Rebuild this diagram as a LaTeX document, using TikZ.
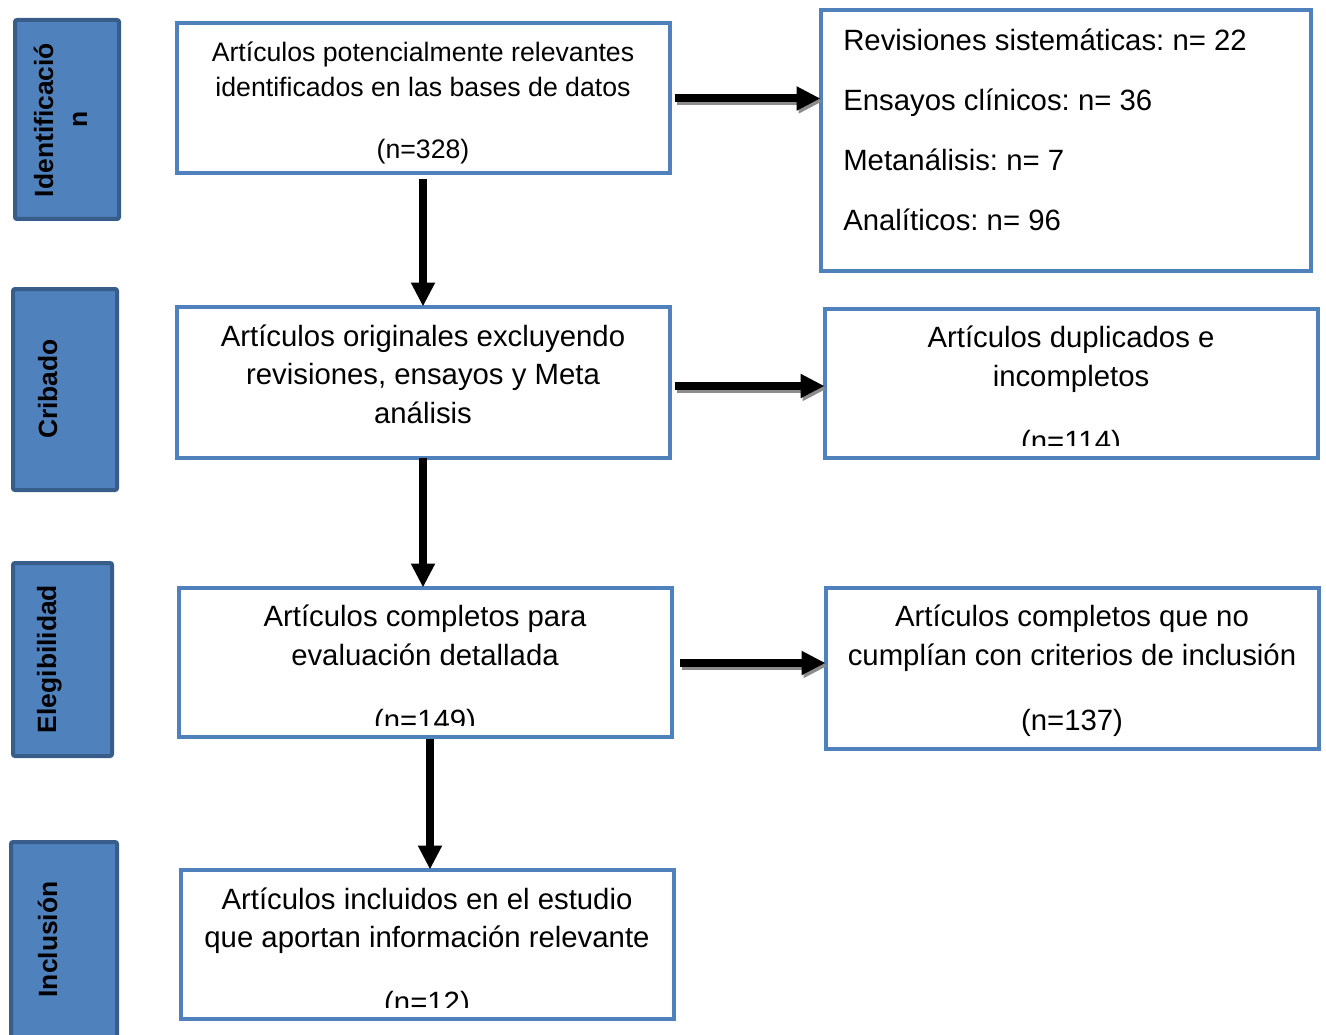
\documentclass[tikz,border=0pt]{standalone}
\usepackage{fontspec}
\setmainfont{Liberation Sans}
\usetikzlibrary{arrows.meta}
\definecolor{boxblue}{RGB}{79,129,189}
\definecolor{tagborder}{RGB}{56,93,138}
\definecolor{shadowgray}{RGB}{140,140,140}
\frenchspacing
\begin{document}
\begin{tikzpicture}[x=0.75pt,y=-0.75pt,
  mainbox/.style={draw=boxblue,line width=3pt,fill=white,inner sep=0,outer sep=0},
  tagbox/.style={draw=tagborder,fill=boxblue,line width=3pt,rounded corners=1.5pt,inner sep=0,outer sep=0},
  tagtext/.style={font=\fontsize{19.8}{24}\selectfont\bfseries,rotate=90,anchor=base,inner sep=0},
  bigtext/.style={font=\fontsize{22}{26}\selectfont,anchor=base,inner sep=0},
  smalltext/.style={font=\fontsize{20}{24}\selectfont,anchor=base,inner sep=0},
  lefttext/.style={font=\fontsize{22}{26}\selectfont,anchor=base west,inner sep=0},
  arr/.style={line width=6pt,-{Triangle[length=18pt,width=17pt]}},
  shadowarr/.style={arr,draw=shadowgray,fill=shadowgray,transform canvas={shift={(1.5pt,-2.2pt)}}}]
\useasboundingbox (0,0) rectangle (1326,1034);

% left tags
\node[tagbox,minimum width=78pt,minimum height=149.25pt] (l1) at (67,119.5) {};
\node[tagbox,minimum width=78pt,minimum height=150.75pt] (l2) at (65,389.5) {};
\node[tagbox,minimum width=74.25pt,minimum height=144.75pt] (l3) at (62.5,659.5) {};
\node[tagbox,minimum width=79.5pt,minimum height=150pt] (l4) at (64,942) {};
\node[tagtext] (l1a) at (53,120) {Identificació};
\node[tagtext] (l1b) at (87,119.5) {n};
\node[tagtext] (l2a) at (57,389) {Cribado};
\node[tagtext] (l3a) at (56,659) {Elegibilidad};
\node[tagtext] (l4a) at (57,939.5) {Inclusión};

% boxes
\node[mainbox,minimum width=369.75pt,minimum height=112.5pt] (b1) at (423,98.5) {};
\node[mainbox,minimum width=367.5pt,minimum height=195pt] (r1) at (1065.5,140.5) {};
\node[mainbox,minimum width=369.75pt,minimum height=113.25pt] (b2) at (423,382) {};
\node[mainbox,minimum width=369.75pt,minimum height=111.75pt] (r2) at (1071,383) {};
\node[mainbox,minimum width=369.75pt,minimum height=111.75pt] (b3) at (425,662) {};
\node[mainbox,minimum width=369.75pt,minimum height=120.75pt] (r3) at (1072,668) {};
\node[mainbox,minimum width=369.75pt,minimum height=111.75pt] (b4) at (427,944) {};

% texts
\node[smalltext] (t1a) at (423,61.6) {Artículos potencialmente relevantes};
\node[smalltext] (t1b) at (423,96.6) {identificados en las bases de datos};
\node[smalltext] (t1c) at (423,158.6) {(n=328)};

\node[lefttext] (s1a) at (843,50.5) {Revisiones sistemáticas: n= 22};
\node[lefttext] (s1b) at (843,110.5) {Ensayos clínicos: n= 36};
\node[lefttext] (s1c) at (843,170.5) {Metanálisis: n= 7};
\node[lefttext] (s1d) at (843,230.5) {Analíticos: n= 96};

\node[bigtext] (t2a) at (423,346.5) {Artículos originales excluyendo};
\node[bigtext] (t2b) at (423,384.5) {revisiones, ensayos y Meta};
\node[bigtext] (t2c) at (423,423.5) {análisis};

\node[bigtext] (s2a) at (1071,347.5) {Artículos duplicados e};
\node[bigtext] (s2b) at (1071,386.5) {incompletos};
\begin{scope}
  \clip (823,300) rectangle (1319,445);
  \node[bigtext] (s2c) at (1071,451.5) {(n=114)};
\end{scope}

\node[bigtext] (t3a) at (425,626.5) {Artículos completos para};
\node[bigtext] (t3b) at (425,665.5) {evaluación detallada};
\begin{scope}
  \clip (177,580) rectangle (673,725);
  \node[bigtext] (t3c) at (425,730.5) {(n=149)};
\end{scope}

\node[bigtext] (s3a) at (1072,626.5) {Artículos completos que no};
\node[bigtext] (s3b) at (1072,665.5) {cumplían con criterios de inclusión};
\node[bigtext] (s3c) at (1072,730.5) {(n=137)};

\node[bigtext] (t4a) at (427,909.5) {Artículos incluidos en el estudio};
\node[bigtext] (t4b) at (427,947.5) {que aportan información relevante};
\begin{scope}
  \clip (179,860) rectangle (675,1007);
  \node[bigtext] (t4c) at (427,1012.5) {(n=12)};
\end{scope}

% arrows: shadows
\draw[shadowarr] ([xshift=4pt]b1.east) -- (b1.east -| r1.west);
\draw[shadowarr] ([xshift=4pt,yshift=-3pt]b2.east) -- ([yshift=-3pt]b2.east -| r2.west);
\draw[shadowarr] ([xshift=6pt,yshift=-0.75pt]b3.east) -- ([yshift=-0.75pt]b3.east -| r3.west);
% arrows
\draw[arr] ([xshift=4pt]b1.east) -- (b1.east -| r1.west);
\draw[arr] ([xshift=4pt,yshift=-3pt]b2.east) -- ([yshift=-3pt]b2.east -| r2.west);
\draw[arr] ([xshift=6pt,yshift=-0.75pt]b3.east) -- ([yshift=-0.75pt]b3.east -| r3.west);
\draw[arr] ([yshift=-4.5pt]b1.south) -- (b1.south |- b2.north);
\draw[arr] (b2.south) -- (b2.south |- b3.north);
\draw[arr] ([xshift=3.75pt,yshift=-2pt]b3.south) -- ([xshift=3.75pt]b3.south |- b4.north);
\end{tikzpicture}
\end{document}
